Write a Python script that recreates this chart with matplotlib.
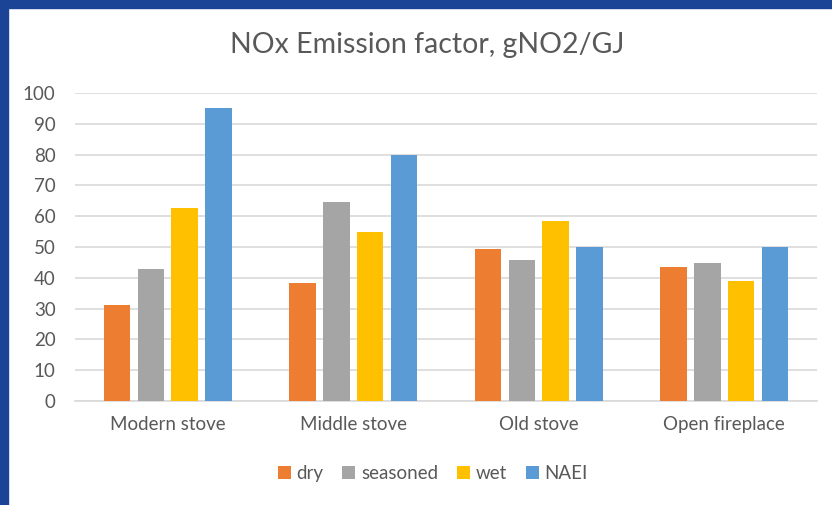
import numpy as np
import matplotlib.pyplot as plt
from matplotlib.patches import Rectangle

plt.rcParams['font.family'] = ['Lato', 'DejaVu Sans']

categories = ['Modern stove', 'Middle stove', 'Old stove', 'Open fireplace']
series = ['dry', 'seasoned', 'wet', 'NAEI']
dry = [31.1, 38.2, 49.3, 43.6]
seasoned = [42.8, 64.6, 45.7, 44.7]
wet = [62.7, 54.9, 58.6, 39.0]
naei = [95.0, 80.0, 50.0, 50.0]
colors = ['#ED7D31', '#A5A5A5', '#FFC000', '#5B9BD5']

fig = plt.figure(figsize=(8.32, 5.05), dpi=100)
# blue frame at top and left
fig.patches.append(Rectangle((0, 0), 8 / 832, 1, transform=fig.transFigure, color='#1B4496', zorder=0))
fig.patches.append(Rectangle((0, 1 - 8 / 505), 1, 8 / 505, transform=fig.transFigure, color='#1B4496', zorder=0))

ax = fig.add_axes([75 / 832, 1 - 401 / 505, (817 - 75) / 832, (401 - 93) / 505])

x = np.arange(len(categories))
width = 0.144
pitch = 0.182
for i, (name, vals) in enumerate(zip(series, [dry, seasoned, wet, naei])):
    ax.bar(x + (i - 1.5) * pitch, vals, width, color=colors[i], label=name, zorder=3)

ax.set_xlim(-0.5, 3.5)
ax.set_ylim(0, 100)
ax.set_yticks(range(0, 101, 10))
ax.yaxis.grid(True, color='#D9D9D9', linewidth=1.2, zorder=0)
ax.set_xticks(x)
ax.set_xticklabels(categories)
ax.tick_params(axis='both', length=0, labelsize=13.5, labelcolor='#595959')
ax.tick_params(axis='x', pad=11)
ax.tick_params(axis='y', pad=14)
for s in ['top', 'right', 'left']:
    ax.spines[s].set_visible(False)
ax.spines['bottom'].set_color('#D9D9D9')
ax.spines['bottom'].set_linewidth(1.2)

fig.text(427 / 832, 1 - 45 / 505, 'NOx Emission factor, gNO2/GJ', ha='center', va='center',
         fontsize=20.5, color='#595959')

ax.legend(loc='center', bbox_to_anchor=(0.482, -0.235), ncol=4, frameon=False,
          fontsize=13.5, labelcolor='#595959', handlelength=0.7, handleheight=0.7,
          handletextpad=0.3, columnspacing=1.0)

fig.savefig('out.png', dpi=100)
